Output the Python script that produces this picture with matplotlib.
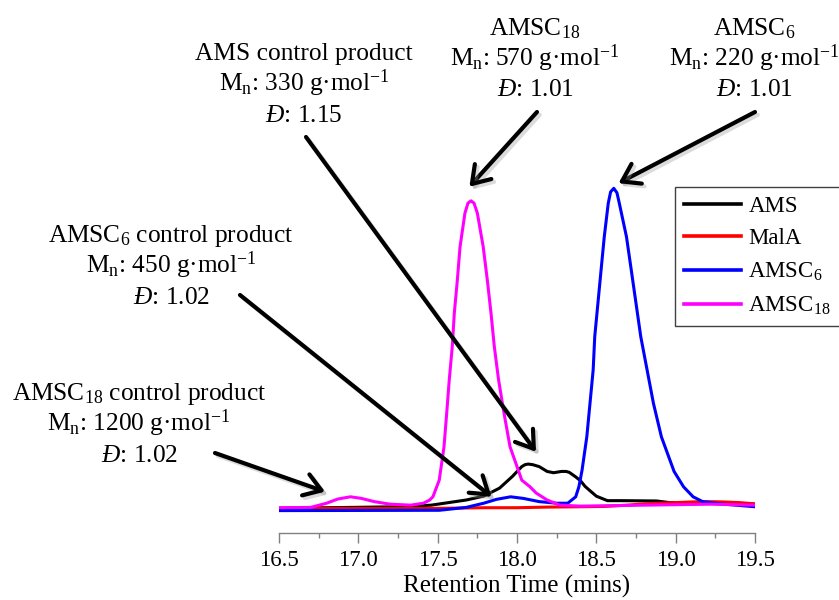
import matplotlib
matplotlib.use("Agg")
import matplotlib.pyplot as plt
import matplotlib.patheffects as pe

plt.rcParams.update({
    "font.family": ["Liberation Serif", "DejaVu Serif"],
    "mathtext.fontset": "custom",
    "mathtext.rm": "Liberation Serif",
    "mathtext.it": "Liberation Serif:italic",
    "mathtext.bf": "Liberation Serif:bold",
    "mathtext.default": "regular",
})

W, H = 839, 600

# retention time (mins) and normalised detector response
ams_t = [16.50, 17.26, 17.46, 17.68, 17.79, 17.89, 17.97, 18.03, 18.05, 18.07, 18.10,
         18.14, 18.19, 18.23, 18.28, 18.31, 18.33, 18.37, 18.40, 18.43, 18.46, 18.50,
         18.57, 18.66, 18.88, 18.96, 19.27, 19.50]
ams_y = [0.002, 0.007, 0.012, 0.028, 0.040, 0.065, 0.101, 0.132, 0.138, 0.140, 0.138,
         0.132, 0.117, 0.113, 0.117, 0.117, 0.114, 0.100, 0.088, 0.070, 0.057, 0.040,
         0.026, 0.026, 0.025, 0.020, 0.018, 0.015]

mala_t = [16.50, 17.00, 17.50, 17.80, 18.00, 18.20, 18.40, 18.55, 18.70, 18.80, 18.90,
          19.00, 19.10, 19.20, 19.30, 19.40, 19.50]
mala_y = [0.002, 0.002, 0.002, 0.004, 0.004, 0.006, 0.007, 0.008, 0.012, 0.016, 0.018,
          0.020, 0.022, 0.023, 0.022, 0.020, 0.016]

c6_t = [16.50, 17.51, 17.68, 17.79, 17.87, 17.96, 18.04, 18.14, 18.25, 18.32, 18.37,
        18.39, 18.41, 18.44, 18.46, 18.48, 18.49, 18.51, 18.53, 18.55, 18.575, 18.59,
        18.61, 18.63, 18.645, 18.69, 18.72, 18.75, 18.78, 18.82, 18.86, 18.91, 18.99,
        19.05, 19.11, 19.17, 19.28, 19.50]
c6_y = [-0.005, -0.004, 0.005, 0.018, 0.030, 0.038, 0.033, 0.023, 0.018, 0.018, 0.038,
        0.069, 0.121, 0.225, 0.329, 0.433, 0.537, 0.641, 0.745, 0.848, 0.952, 0.988,
        0.999, 0.985, 0.952, 0.848, 0.745, 0.641, 0.537, 0.433, 0.329, 0.225, 0.117,
        0.069, 0.038, 0.023, 0.016, 0.007]

c18_t = [16.50, 16.70, 16.80, 16.87, 16.95, 17.02, 17.10, 17.20, 17.33, 17.41, 17.45,
         17.47, 17.51, 17.540, 17.557, 17.573, 17.592, 17.605, 17.624, 17.641, 17.672,
         17.691, 17.710, 17.729, 17.750, 17.787, 17.813, 17.836, 17.857, 17.884, 17.918,
         17.956, 18.03, 18.08, 18.12, 18.19, 18.27, 18.40, 18.80, 19.22, 19.50]
c18_y = [0.004, 0.005, 0.018, 0.031, 0.038, 0.033, 0.023, 0.015, 0.012, 0.018, 0.028,
         0.038, 0.090, 0.194, 0.299, 0.402, 0.506, 0.611, 0.713, 0.817, 0.922,
         0.953, 0.960, 0.953, 0.922, 0.817, 0.713, 0.611, 0.506, 0.402, 0.299,
         0.194, 0.090, 0.070, 0.050, 0.028, 0.012, 0.009, 0.012, 0.015, 0.012]

series = [
    ("AMS", ams_t, ams_y, "#000000"),
    ("MalA", mala_t, mala_y, "#ff0000"),
    (r"AMSC$_{6}$", c6_t, c6_y, "#0000ff"),
    (r"AMSC$_{18}$", c18_t, c18_y, "#ff00ff"),
]

# callouts: text lines, block centre x (px), line baselines (px from top), arrow start (px), tip (data)
callouts = [
    (["AMS control product", r"M$_{n}$: 330 g·mol$^{-1}$", r"$\mathit{Đ}$: 1.15"],
     304, [60, 91, 122], (306, 137), (18.12, 0.178)),
    ([r"AMSC$_{6}$ control product", r"M$_{n}$: 450 g·mol$^{-1}$", r"$\mathit{Đ}$: 1.02"],
     171, [242, 273, 304], (240, 295), (17.84, 0.038)),
    ([r"AMSC$_{18}$ control product", r"M$_{n}$: 1200 g·mol$^{-1}$", r"$\mathit{Đ}$: 1.02"],
     139, [400, 431, 462], (215, 453), (16.79, 0.054)),
    ([r"AMSC$_{18}$", r"M$_{n}$: 570 g·mol$^{-1}$", r"$\mathit{Đ}$: 1.01"],
     535, [35, 66, 96], (537, 112), (17.70, 1.004)),
    ([r"AMSC$_{6}$", r"M$_{n}$: 220 g·mol$^{-1}$", r"$\mathit{Đ}$: 1.01"],
     754, [35, 66, 96], (755, 112), (18.64, 1.015)),
]


def fx(px):
    return px / W


def fy(py):
    return 1 - py / H


fig = plt.figure(figsize=(W / 100, H / 100), dpi=100)
ax = fig.add_axes([fx(279), fy(533.3), (755 - 279) / W, 533.3 / H])

for label, t, y, c in series:
    ax.plot(t, y, color=c, lw=2.2, label=label, solid_joinstyle="round")

ax.set_xlim(16.5, 19.5)
ax.set_ylim(-0.0757, 1.5857)
ax.set_xticks([16.5, 17.0, 17.5, 18.0, 18.5, 19.0, 19.5])
ax.set_xticks([16.75, 17.25, 17.75, 18.25, 18.75, 19.25], minor=True)
ax.set_xticklabels(["16.5", "17.0", "17.5", "18.0", "18.5", "19.0", "19.5"])
ax.tick_params(axis="x", which="major", direction="out", length=7, width=1,
               color="#808080", labelsize=16.5, pad=5)
ax.tick_params(axis="x", which="minor", direction="out", length=3.5, width=1, color="#808080")
ax.set_yticks([])
for s in ("left", "top", "right"):
    ax.spines[s].set_visible(False)
ax.spines["bottom"].set_color("#808080")
ax.spines["bottom"].set_linewidth(1)
ax.set_xlabel("Retention Time (mins)", fontsize=18, labelpad=3)
ax.patch.set_alpha(0)

leg = ax.legend(loc="upper left", bbox_to_anchor=(fx(675), fy(186.7)),
                bbox_transform=fig.transFigure, borderaxespad=0, fontsize=16.5,
                handlelength=2.5, handletextpad=0.3, labelspacing=0.5, borderpad=0.4,
                fancybox=False, framealpha=1, edgecolor="#404040")
leg.get_frame().set_linewidth(1)
for ln in leg.get_lines():
    ln.set_linewidth(2.6)

shadow = [pe.SimpleLineShadow(offset=(2, -2), shadow_color="#999999", alpha=0.35), pe.Normal()]
for lines, cx, bases, start, tip in callouts:
    for txt, b in zip(lines, bases):
        fig.text(fx(cx), fy(b), txt, ha="center", va="baseline", fontsize=18.3)
    ax.annotate("", xy=tip, xycoords="data", xytext=(fx(start[0]), fy(start[1])),
                textcoords="figure fraction",
                arrowprops=dict(arrowstyle="->, head_length=0.6, head_width=0.4",
                                mutation_scale=20, lw=3, color="black",
                                shrinkA=0, shrinkB=0, path_effects=shadow),
                annotation_clip=False)

fig.savefig("out.png", dpi=100, facecolor="white")
